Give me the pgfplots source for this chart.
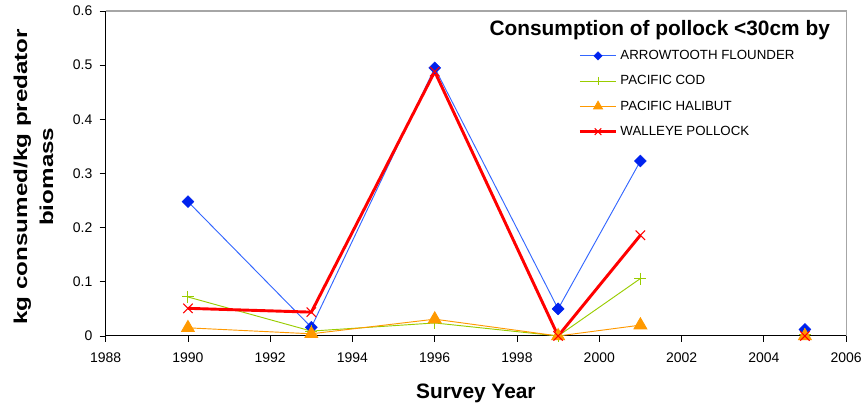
\documentclass[border=0pt]{standalone}
\usepackage{fontspec}
\setmainfont{Liberation Sans}
\usepackage{graphicx}
\usepackage{pgfplots}
\pgfplotsset{compat=1.18}

\definecolor{afblue}{HTML}{3366FF}
\definecolor{afmark}{HTML}{0022EE}
\definecolor{codgreen}{HTML}{99CC00}
\definecolor{halorange}{HTML}{FF9900}

\begin{document}
\begin{tikzpicture}
\path (0pt,0pt) rectangle (649.5pt,303pt);
\begin{axis}[
    at={(79.5pt,50.25pt)}, anchor=south west,
    scale only axis,
    width=557pt, height=244.5pt,
    xmin=1988, xmax=2006,
    ymin=0, ymax=0.6,
    xtick={1988,1990,...,2006},
    ytick={0,0.1,...,0.6},
    axis x line*=bottom,
    axis y line*=left,
    axis line style={black, line width=0.8pt},
    tick align=outside,
    major tick length=4.5pt,
    tick style={black, line width=0.6pt},
    /pgf/number format/assume math mode=true,
    xticklabel style={font=\fontsize{10.5}{12}\selectfont, /pgf/number format/1000 sep={}, yshift=-4.5pt},
    yticklabel style={font=\fontsize{10.5}{12}\selectfont, /pgf/number format/fixed, xshift=-2pt},
    xlabel={Survey Year},
    xlabel style={font=\bfseries\fontsize{15.7}{18}\selectfont,
        at={(axis description cs:0.5,-0.148)}, anchor=north, inner sep=0pt},
    ylabel={\scalebox{1.3}[1]{\begin{tabular}{@{}c@{}}kg consumed/kg predator\\biomass\end{tabular}}},
    ylabel style={font=\bfseries\fontsize{14}{19.5}\selectfont,
        at={(axis description cs:-0.0956,0.49)}, anchor=center, inner sep=0pt},
    unbounded coords=jump,
    clip=false,
    legend style={draw=none, fill=none, at={(rel axis cs:0.638,0.888)}, anchor=north west,
        font=\fontsize{10}{12}\selectfont, row sep=6.5pt, inner sep=0pt},
    legend cell align=left,
    legend image code/.code={%
        \draw[mark repeat=2, mark phase=2, every mark/.append style={scale=0.7}]
            plot coordinates {(0pt,0pt) (13.75pt,0pt) (27.5pt,0pt)};},
]
\addplot[color=afblue, line width=0.7pt, mark=square*, mark size=3.2pt,
    mark options={fill=afmark, draw=afmark, line width=0.3pt, rotate=45}] coordinates {
    (1990,0.248) (1993,0.016) (1996,0.495) (1999,0.050) (2001,0.323) (2003,nan) (2005,0.012)
};
\addlegendentry{ARROWTOOTH FLOUNDER}
\addplot[color=codgreen, line width=0.7pt, mark=+, mark size=4.5pt,
    mark options={line width=0.7pt}] coordinates {
    (1990,0.072) (1993,0.009) (1996,0.024) (1999,0.000) (2001,0.106) (2003,nan) (2005,0.003)
};
\addlegendentry{PACIFIC COD}
\addplot[color=halorange, line width=0.7pt, mark=triangle*, mark size=5.5pt,
    mark options={fill=halorange, draw=halorange}] coordinates {
    (1990,0.015) (1993,0.004) (1996,0.031) (1999,0.000) (2001,0.020) (2003,nan) (2005,0.000)
};
\addlegendentry{PACIFIC HALIBUT}
\addplot[color=red, line width=2.2pt, mark=x, mark size=5pt,
    mark options={line width=0.8pt}] coordinates {
    (1990,0.051) (1993,0.044) (1996,0.488) (1999,0.000) (2001,0.186) (2003,nan) (2005,0.000)
};
\addlegendentry{WALLEYE POLLOCK}
\draw[gray!70, line width=0.8pt] (rel axis cs:0,1) -- (rel axis cs:1,1) -- (rel axis cs:1,0);
\node[anchor=north east, font=\bfseries\fontsize{15.7}{18}\selectfont, inner sep=0pt]
    at (rel axis cs:0.9785,0.972) {Consumption of pollock <30cm by};
\end{axis}
\end{tikzpicture}
\end{document}
